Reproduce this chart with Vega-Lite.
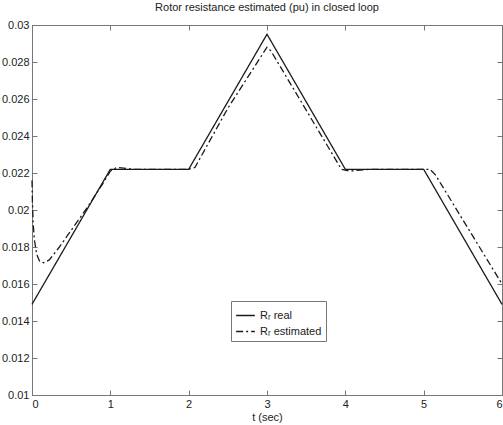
{
  "$schema": "https://vega.github.io/schema/vega-lite/v6.json",
  "autosize": {"type": "none"},
  "padding": {"left": 32, "top": 25, "right": 1, "bottom": 30},
  "width": 470,
  "height": 370,
  "background": "white",
  "config": {
    "font": "Liberation Sans",
    "view": {"stroke": "#777", "strokeWidth": 1},
    "axis": {"grid": false, "domainColor": "#777", "tickColor": "#777", "labelColor": "#222", "labelFontSize": 11, "titleFontSize": 11, "titleFontWeight": "normal", "titleColor": "#222", "tickSize": -5, "labelFont": "Liberation Sans", "titleFont": "Liberation Sans"}
  },
  "title": {"text": "Rotor resistance estimated (pu) in closed loop", "fontSize": 11, "fontWeight": "normal", "color": "#222", "font": "Liberation Sans", "offset": 6},
  "data": {"values": [
    {"t": 0, "v": 0.0149, "s": "Rᵣ real"},
    {"t": 1, "v": 0.0222, "s": "Rᵣ real"},
    {"t": 2, "v": 0.0222, "s": "Rᵣ real"},
    {"t": 3, "v": 0.0295, "s": "Rᵣ real"},
    {"t": 4, "v": 0.0222, "s": "Rᵣ real"},
    {"t": 5, "v": 0.0222, "s": "Rᵣ real"},
    {"t": 6, "v": 0.0149, "s": "Rᵣ real"},
    {"t": 0, "v": 0.0216, "s": "Rᵣ estimated"},
    {"t": 0.005, "v": 0.0205, "s": "Rᵣ estimated"},
    {"t": 0.015, "v": 0.0193, "s": "Rᵣ estimated"},
    {"t": 0.03, "v": 0.0184, "s": "Rᵣ estimated"},
    {"t": 0.06, "v": 0.0176, "s": "Rᵣ estimated"},
    {"t": 0.1, "v": 0.0172, "s": "Rᵣ estimated"},
    {"t": 0.15, "v": 0.01715, "s": "Rᵣ estimated"},
    {"t": 0.22, "v": 0.0173, "s": "Rᵣ estimated"},
    {"t": 0.35, "v": 0.018, "s": "Rᵣ estimated"},
    {"t": 0.5, "v": 0.0189, "s": "Rᵣ estimated"},
    {"t": 0.7, "v": 0.0201, "s": "Rᵣ estimated"},
    {"t": 0.9, "v": 0.0214, "s": "Rᵣ estimated"},
    {"t": 1.0, "v": 0.0221, "s": "Rᵣ estimated"},
    {"t": 1.08, "v": 0.0223, "s": "Rᵣ estimated"},
    {"t": 1.3, "v": 0.0222, "s": "Rᵣ estimated"},
    {"t": 2.0, "v": 0.0222, "s": "Rᵣ estimated"},
    {"t": 2.08, "v": 0.0223, "s": "Rᵣ estimated"},
    {"t": 2.5, "v": 0.0255, "s": "Rᵣ estimated"},
    {"t": 3.0, "v": 0.0288, "s": "Rᵣ estimated"},
    {"t": 3.05, "v": 0.0286, "s": "Rᵣ estimated"},
    {"t": 3.5, "v": 0.0254, "s": "Rᵣ estimated"},
    {"t": 3.95, "v": 0.0222, "s": "Rᵣ estimated"},
    {"t": 4.05, "v": 0.0221, "s": "Rᵣ estimated"},
    {"t": 4.3, "v": 0.0222, "s": "Rᵣ estimated"},
    {"t": 5.0, "v": 0.0222, "s": "Rᵣ estimated"},
    {"t": 5.08, "v": 0.0222, "s": "Rᵣ estimated"},
    {"t": 5.15, "v": 0.0219, "s": "Rᵣ estimated"},
    {"t": 6.0, "v": 0.016, "s": "Rᵣ estimated"}
  ]},
  "layer": [
    {
      "mark": {"type": "line", "color": "#1a1a1a", "strokeWidth": 1.3},
      "encoding": {
        "x": {"field": "t", "type": "quantitative", "scale": {"domain": [0, 6], "nice": false, "zero": false}, "axis": {"values": [0, 1, 2, 3, 4, 5, 6], "title": "t (sec)", "titlePadding": 2, "labelPadding": 8}},
        "y": {"field": "v", "type": "quantitative", "scale": {"domain": [0.01, 0.03], "nice": false, "zero": false}, "axis": {"values": [0.01, 0.012, 0.014, 0.016, 0.018, 0.02, 0.022, 0.024, 0.026, 0.028, 0.03], "format": "~g", "title": null, "labelPadding": 8}},
        "strokeDash": {"field": "s", "type": "nominal", "scale": {"domain": ["Rᵣ real", "Rᵣ estimated"], "range": [[1, 0], [7, 3, 2, 3]]},
          "legend": {"title": null, "orient": "none", "legendX": 199, "legendY": 276, "strokeColor": "#777", "fillColor": "white", "padding": 4, "symbolType": "stroke", "symbolSize": 350, "symbolStrokeColor": "#1a1a1a", "symbolStrokeWidth": 1.3, "labelFontSize": 11, "labelColor": "#222", "labelFont": "Liberation Sans", "rowPadding": 0}},
        "detail": {"field": "s"},
        "order": {"field": "t"}
      }
    },
    {
      "mark": {"type": "line", "opacity": 0},
      "encoding": {
        "x": {"field": "t", "type": "quantitative", "scale": {"domain": [0, 6], "nice": false, "zero": false}, "axis": {"orient": "top", "values": [0, 1, 2, 3, 4, 5, 6], "labels": false, "title": null}},
        "y": {"field": "v", "type": "quantitative", "scale": {"domain": [0.01, 0.03], "nice": false, "zero": false}, "axis": {"orient": "right", "values": [0.01, 0.012, 0.014, 0.016, 0.018, 0.02, 0.022, 0.024, 0.026, 0.028, 0.03], "labels": false, "title": null}},
        "detail": {"field": "s"}
      }
    }
  ],
  "resolve": {"axis": {"x": "independent", "y": "independent"}}
}
